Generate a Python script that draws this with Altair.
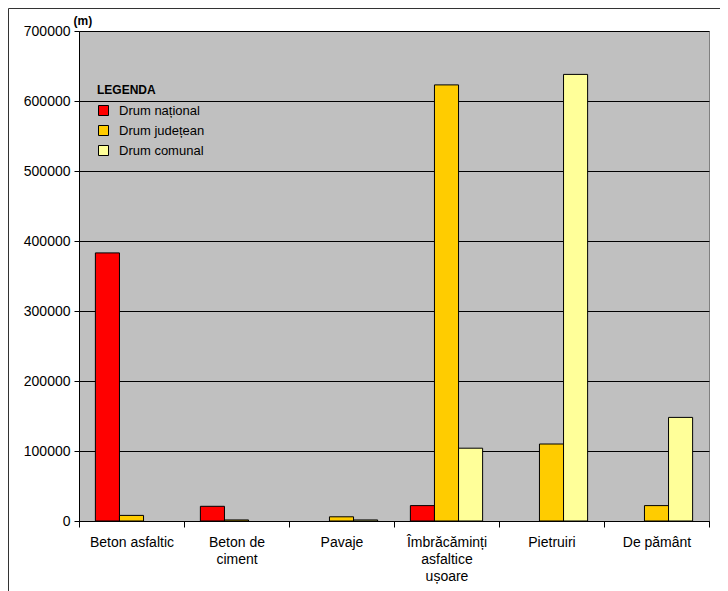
import altair as alt
import pandas as pd

categories = ["Beton asfaltic", "Beton de|ciment", "Pavaje",
              "Îmbrăcăminți|asfaltice|ușoare", "Pietruiri", "De pământ"]
series = ["Drum național", "Drum județean", "Drum comunal"]
national = [383000, 21000, 0, 22000, 0, 0]
judetean = [8000, 1500, 6000, 623000, 110000, 22000]
comunal = [0, 0, 1500, 104000, 638000, 148000]
colors = ["#FF0000", "#FFCC00", "#FFFF99"]
y_ticks = [0, 100000, 200000, 300000, 400000, 500000, 600000, 700000]

rows = []
for vals, s in zip([national, judetean, comunal], series):
    for c, v in zip(categories, vals):
        rows.append({"cat": c, "serie": s, "val": v})
df = pd.DataFrame(rows)

W, H = 630, 490

bars = alt.Chart(df).transform_filter("datum.val > 0").mark_bar(
    stroke="black", strokeWidth=1).encode(
    x=alt.X("cat:N", sort=categories,
            scale=alt.Scale(domain=categories, paddingInner=0, paddingOuter=0),
            axis=alt.Axis(title=None, labelAngle=0, tickBand="extent",
                          labelExpr="split(datum.label, '|')",
                          labelFont="Liberation Sans", labelFontSize=14,
                          labelColor="black", labelLineHeight=17,
                          labelPadding=8, tickSize=6, tickColor="black",
                          domainColor="black", grid=False)),
    xOffset=alt.XOffset("serie:N", sort=series,
                        scale=alt.Scale(domain=series, paddingInner=0, paddingOuter=0.68)),
    y=alt.Y("val:Q", scale=alt.Scale(domain=[0, 700000], nice=False),
            axis=alt.Axis(values=y_ticks, format="d", title="(m)",
                          titleAngle=0, titleAlign="left", titleBaseline="middle",
                          titleX=-6, titleY=-11, titleFont="Liberation Sans",
                          titleFontSize=12, titleFontWeight="bold",
                          titleColor="black",
                          labelFont="Liberation Sans", labelFontSize=14,
                          labelColor="black", labelPadding=4, tickSize=5,
                          tickColor="black", domainColor="black",
                          gridColor="black", gridWidth=1)),
    color=alt.Color("serie:N", sort=series,
                    scale=alt.Scale(domain=series, range=colors),
                    legend=alt.Legend(title="LEGENDA", orient="none",
                                      legendX=18, legendY=54,
                                      titleFont="Liberation Sans",
                                      titleFontSize=12, titleFontWeight="bold",
                                      titleColor="black", titlePadding=7,
                                      labelFont="Liberation Sans",
                                      labelFontSize=13, labelColor="black",
                                      labelOffset=9, rowPadding=5,
                                      symbolType="square", symbolSize=100,
                                      symbolStrokeColor="black",
                                      symbolStrokeWidth=1, padding=0)),
)

frame_data = alt.Data(values=[{"k": 1}])
frame_left = alt.Chart(frame_data).mark_rule(color="#333333", strokeWidth=1).encode(
    x=alt.value(-70.5), y=alt.value(-22.5), y2=alt.value(H + 100))
frame_top = alt.Chart(frame_data).mark_rule(color="#333333", strokeWidth=1).encode(
    x=alt.value(-70.5), x2=alt.value(W + 20), y=alt.value(-22.5))

chart = alt.layer(bars, frame_left, frame_top).properties(
    width=W, height=H,
    autosize=alt.AutoSizeParams(type="none"),
    padding={"left": 71, "top": 23, "right": 11, "bottom": 70},
    background="white",
).configure_view(fill="#C0C0C0", stroke="#808080", strokeWidth=1)

chart.save("out.html", embed_options={"renderer": "svg", "actions": False})
